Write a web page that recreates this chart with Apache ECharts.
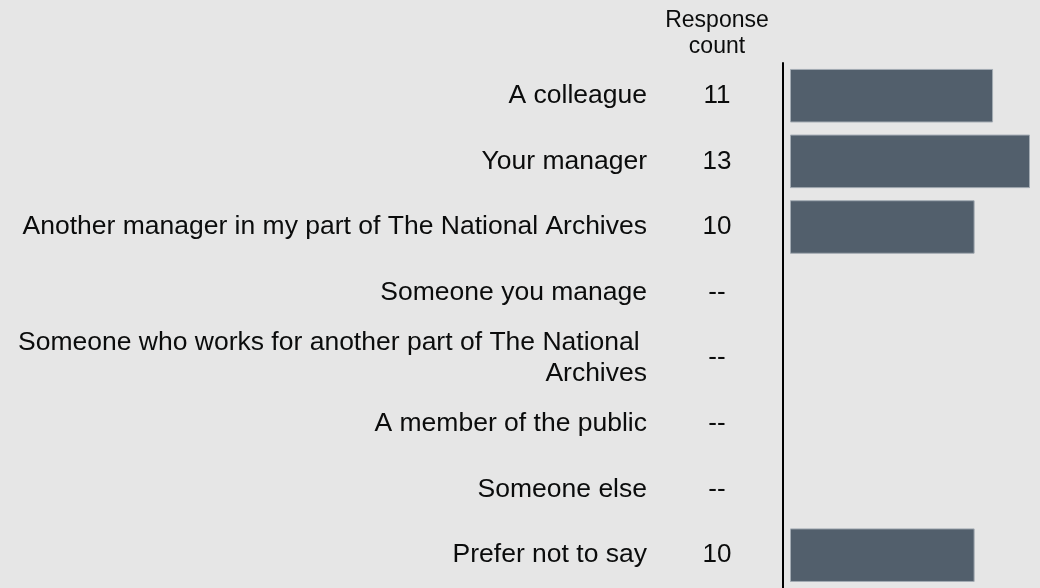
<!DOCTYPE html>
<html>
<head>
<meta charset="utf-8">
<style>
  html, body { margin: 0; padding: 0; background: #e6e6e6; }
  #chart { width: 1040px; height: 588px; }
</style>
<script src="https://cdn.jsdelivr.net/npm/echarts@6/dist/echarts.min.js"></script>
</head>
<body>
<div id="chart"></div>
<script>
const categories = [
  'A colleague',
  'Your manager',
  'Another manager in my part of The National Archives',
  'Someone you manage',
  'Someone who works for another part of The National \nArchives',
  'A member of the public',
  'Someone else',
  'Prefer not to say'
];
const values = [11, 13, 10, null, null, null, null, 10];
const countLabels = ['11', '13', '10', '--', '--', '--', '--', '10'];
const headerText = 'Response\ncount';

const FONT = '"Liberation Sans", Arial, sans-serif';
const chart = echarts.init(document.getElementById('chart'), null, { renderer: 'canvas' });
chart.setOption({
  backgroundColor: '#e6e6e6',
  animation: false,
  grid: { left: 790, right: 10, top: 62.9, bottom: -4.5, containLabel: false },
  xAxis: { type: 'value', min: 0, max: 13, show: false },
  yAxis: [
    {
      type: 'category', data: categories, inverse: true, offset: 7, position: 'left',
      axisLine: { show: true, onZero: false, lineStyle: { color: '#000', width: 2 } },
      axisTick: { show: false },
      splitLine: { show: false },
      axisLabel: {
        interval: 0, margin: 136, fontSize: 26.5, lineHeight: 31,
        padding: [4, 0, 0, 0],
        color: '#0b0c0c', fontFamily: FONT, align: 'right'
      }
    },
    {
      type: 'category', data: categories, inverse: true, offset: 7, position: 'left',
      axisLine: { show: false, onZero: false }, axisTick: { show: false }, splitLine: { show: false },
      axisLabel: {
        interval: 0, margin: 66, fontSize: 26, color: '#0b0c0c', fontFamily: FONT,
        align: 'center', padding: [4, 0, 0, 0],
        formatter: function (v, i) { return countLabels[i]; }
      }
    }
  ],
  graphic: [{
    type: 'text', x: 717, y: 8,
    style: {
      text: headerText, align: 'center', verticalAlign: 'top',
      fontSize: 23, lineHeight: 26, fontFamily: FONT, fill: '#0b0c0c'
    }
  }],
  series: [{
    type: 'bar', yAxisIndex: 0, data: values, barCategoryGap: '18.4%',
    itemStyle: { color: '#525f6c', borderColor: '#a3abb3', borderWidth: 1 },
    silent: true
  }]
});
</script>
</body>
</html>
